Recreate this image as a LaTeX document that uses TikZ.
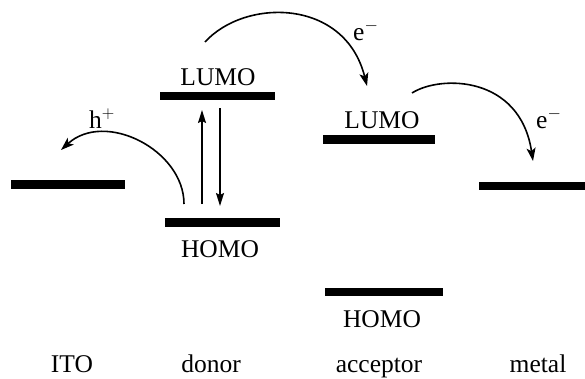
\documentclass[tikz,border=0pt]{standalone}
\usepackage{fontspec}
\setmainfont{Liberation Serif}
\usetikzlibrary{arrows.meta}
\begin{document}
\begin{tikzpicture}[x=1pt,y=-1pt,
  level/.style={fill=black,draw=none,inner sep=0pt,minimum height=8.5pt},
  txt/.style={inner sep=0pt,anchor=base,font=\fontsize{25.5}{30}\selectfont},
  flow/.style={line width=1.6pt,-{Stealth[length=13pt,width=9pt,inset=3pt]}},
  excite/.style={line width=1.6pt,-{Stealth[length=13pt,width=8pt,inset=2pt]}}]
  \useasboundingbox (0,0) rectangle (585,378);

  % energy levels
  \node[level,minimum width=114pt] (ito) at (68,184.5) {};
  \node[level,minimum width=115pt] (dl) at (217.5,96) {};
  \node[level,minimum width=115pt] (dh) at (222.5,222.5) {};
  \node[level,minimum width=112pt] (al) at (379,139.5) {};
  \node[level,minimum width=118pt] (ah) at (384,292) {};
  \node[level,minimum width=108pt] (metal) at (533,186) {};

  % level labels
  \node[txt] (dlt) at (218,85) {LUMO};
  \node[txt] (dht) at (220,257) {HOMO};
  \node[txt] (alt) at (382,128) {LUMO};
  \node[txt] (aht) at (382,327) {HOMO};

  % layer names
  \node[txt] (itot) at (72,372) {ITO};
  \node[txt] (dont) at (211,372) {donor};
  \node[txt] (acct) at (379,372) {acceptor};
  \node[txt] (mett) at (538,372) {metal};

  % excitation and relaxation within the donor
  \coordinate (upA) at (202,204);
  \coordinate (upB) at (202,110);
  \coordinate (dnA) at (220,108);
  \coordinate (dnB) at (220,206);
  \draw[excite] (upA) -- (upB);
  \draw[excite] (dnA) -- (dnB);

  % hole transfer to ITO
  \coordinate (hA) at (184,204);
  \coordinate (hB) at (61,150);
  \draw[flow] (hA) .. controls (184,150) and (105,110) .. (hB);
  \node[txt,anchor=base west] (hlab) at (89,128) {h$^{+}$};

  % electron transfer donor -> acceptor
  \coordinate (eA) at (205,42);
  \coordinate (eB) at (367,86);
  \draw[flow] (eA) .. controls (245,-2) and (345,-2) .. (eB);
  \node[txt,anchor=base west] (elab1) at (353,40) {e$^{-}$};

  % electron transfer acceptor -> metal
  \coordinate (fA) at (412,93);
  \coordinate (fB) at (533,161);
  \draw[flow] (fA) .. controls (440,75) and (520,75) .. (fB);
  \node[txt,anchor=base west] (elab2) at (536,128) {e$^{-}$};
\end{tikzpicture}
\end{document}
